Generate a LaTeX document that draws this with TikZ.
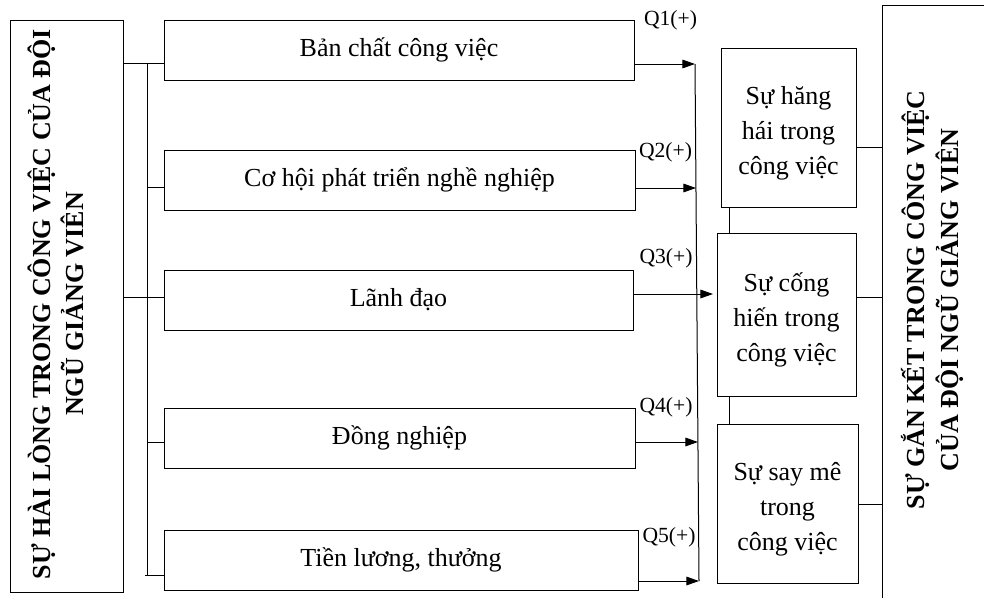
\documentclass[tikz,border=0pt]{standalone}
\usepackage{fontspec}
\setmainfont{Liberation Serif}
\usetikzlibrary{arrows.meta}
\newdimen\upx \upx=0.75pt
\begin{document}
\begin{tikzpicture}[x=0.75pt,y=-0.75pt, line width=0.75pt,
  box/.style={draw, inner sep=0pt, outer sep=0pt, align=center,
    font=\fontsize{19.5}{26.25}\selectfont},
  qlab/.style={inner sep=0pt, font=\fontsize{16.2}{19}\selectfont},
  titletext/.style={inner sep=0pt, anchor=base, rotate=90,
    font=\bfseries\fontsize{19.5}{25}\selectfont},
  arr/.style={-{Triangle[length=9.5pt,width=6.5pt]}}]
\useasboundingbox (0,0) rectangle (984,597);

% left box and title
\node[box, minimum width=113\upx, minimum height=572\upx] (L) at (66.5,306) {};
\node[titletext] (TL1) at (50,304) {SỰ HÀI LÒNG TRONG CÔNG VIỆC CỦA ĐỘI};
\node[titletext] (TL2) at (83,304) {NGŨ GIẢNG VIÊN};

% factor boxes
\node[box, minimum width=470\upx, minimum height=60\upx] (B1) at (399,50) {Bản chất công việc};
\node[box, minimum width=471\upx, minimum height=60\upx] (B2) at (399.5,180) {Cơ hội phát triển nghề nghiệp};
\node[box, minimum width=469\upx, minimum height=60\upx] (B3) at (398.5,300) {Lãnh đạo};
\node[box, minimum width=471\upx, minimum height=60\upx] (B4) at (399.5,438) {Đồng nghiệp};
\node[box, minimum width=474\upx, minimum height=60\upx] (B5) at (401,560) {Tiền lương, thưởng};

% middle boxes
\node[box, minimum width=135\upx, minimum height=159\upx] (M1) at (788.5,127.5) {\rule{0pt}{21.5pt}Sự hăng\\hái trong\\công việc};
\node[box, minimum width=139\upx, minimum height=163\upx] (M2) at (786.5,314.5) {\rule{0pt}{22.5pt}Sự cống\\hiến trong\\công việc};
\node[box, minimum width=141\upx, minimum height=159\upx] (M3) at (787.5,503.5) {\rule{0pt}{21.5pt}Sự say mê\\trong\\công việc};

% right box (open to the right and bottom)
\coordinate (Rtl) at (882,5);
\coordinate (Rtr) at (985,5);
\coordinate (Rbl) at (882,598);
\draw (Rtr) -- (Rtl) -- (Rbl);
\node[titletext] (TR1) at (924,300) {SỰ GẮN KẾT TRONG CÔNG VIỆC};
\node[titletext] (TR2) at (958,300) {CỦA ĐỘI NGŨ GIẢNG VIÊN};

% left bus
\coordinate (lt) at (147,63);
\coordinate (lb) at (147,575);
\draw (lt) -- (lb);
\draw (L.east |- lt) -- (B1.west |- lt);
\draw (lt |- 0,187) -- (B2.west |- 0,187);
\draw (L.east |- 0,297) -- (B3.west |- 0,297);
\draw (lt |- 0,442) -- (B4.west |- 0,442);
\draw ([xshift=-2\upx]lb) -- (B5.west |- lb);

% right bus and arrows
\coordinate (bt) at (695,64);
\coordinate (bb) at (699,581);
\coordinate (a2) at (696,188);
\coordinate (a3) at (713,294);
\coordinate (a4) at (698,442);
\draw (bt) -- (bb);
\draw[arr] (B1.east |- bt) -- (bt);
\draw[arr] (B2.east |- a2) -- (a2);
\draw[arr] (B3.east |- a3) -- (a3);
\draw[arr] (B4.east |- a4) -- (a4);
\draw[arr] (B5.east |- bb) -- (bb);

% Q labels
\node[qlab] (Q1) at (670.5,20) {Q1(+)};
\node[qlab] (Q2) at (665.5,152) {Q2(+)};
\node[qlab] (Q3) at (666,258) {Q3(+)};
\node[qlab] (Q4) at (666,407) {Q4(+)};
\node[qlab] (Q5) at (669,537) {Q5(+)};

% links between middle boxes
\draw (M1.south -| 729,0) -- (M2.north -| 729,0);
\draw (M2.south -| 729,0) -- (M3.north -| 729,0);

% links to right box
\draw (M1.east |- 0,147) -- (Rtl |- 0,147);
\draw (M2.east |- 0,297) -- (Rtl |- 0,297);
\draw (M3.east |- 0,504) -- (Rtl |- 0,504);
\end{tikzpicture}
\end{document}
